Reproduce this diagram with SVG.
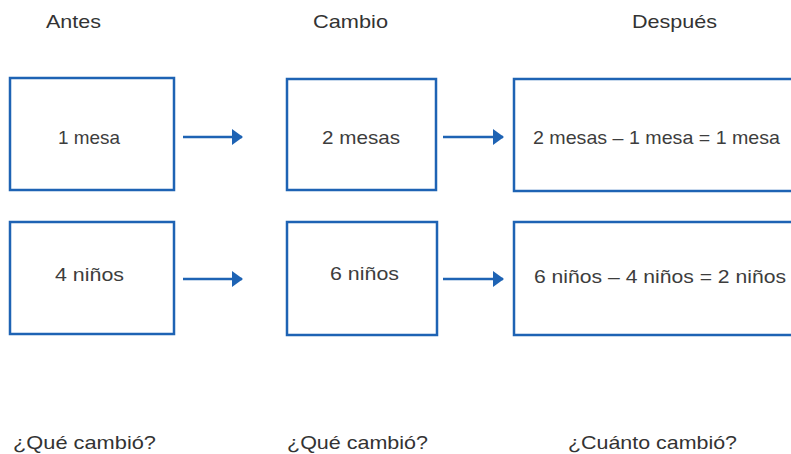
<svg xmlns="http://www.w3.org/2000/svg" width="791" height="454" viewBox="0 0 791 454">
<defs>
<style>
.box{fill:#fff;stroke:#1e63b4;stroke-width:2.5}
.lbl{font-family:"Liberation Sans",Arial,sans-serif;font-size:19px;fill:#3d3d3d}
.hdr{font-family:"Liberation Sans",Arial,sans-serif;font-size:19px;fill:#333}
.con{stroke:#1e63b4;stroke-width:2.5;fill:none}
</style>
<marker id="ah" viewBox="0 0 11 16" refX="10" refY="8" markerWidth="11" markerHeight="16" markerUnits="userSpaceOnUse" orient="auto">
<path d="M0,0 L11,8 L0,16 Z" fill="#1e63b4"/>
</marker>
</defs>
<rect width="791" height="454" fill="#fff"/>
<g id="headers">
<text class="hdr" x="46" y="28" textLength="55" lengthAdjust="spacingAndGlyphs">Antes</text>
<text class="hdr" x="313" y="28" textLength="75" lengthAdjust="spacingAndGlyphs">Cambio</text>
<text class="hdr" x="632" y="28" textLength="85" lengthAdjust="spacingAndGlyphs">Después</text>
</g>
<g id="n1"><rect class="box" x="10" y="78" width="164" height="112"/><text class="lbl" x="58" y="144" textLength="62" lengthAdjust="spacingAndGlyphs">1 mesa</text></g>
<g id="n2"><rect class="box" x="287" y="79" width="149" height="111"/><text class="lbl" x="322" y="144" textLength="78" lengthAdjust="spacingAndGlyphs">2 mesas</text></g>
<g id="n3"><rect class="box" x="514" y="79" width="290" height="112"/><text class="lbl" x="533" y="144" textLength="247" lengthAdjust="spacingAndGlyphs">2 mesas – 1 mesa = 1 mesa</text></g>
<g id="n4"><rect class="box" x="10" y="222" width="164" height="112"/><text class="lbl" x="55" y="281" textLength="69" lengthAdjust="spacingAndGlyphs">4 niños</text></g>
<g id="n5"><rect class="box" x="287" y="222" width="150" height="113"/><text class="lbl" x="330" y="280" textLength="69" lengthAdjust="spacingAndGlyphs">6 niños</text></g>
<g id="n6"><rect class="box" x="514" y="222" width="290" height="113"/><text class="lbl" x="534" y="283" textLength="252" lengthAdjust="spacingAndGlyphs">6 niños – 4 niños = 2 niños</text></g>
<g id="connectors">
<line class="con" x1="183" y1="137" x2="242" y2="137" marker-end="url(#ah)"/>
<line class="con" x1="443" y1="137" x2="503" y2="137" marker-end="url(#ah)"/>
<line class="con" x1="183" y1="279" x2="242" y2="279" marker-end="url(#ah)"/>
<line class="con" x1="443" y1="279" x2="503" y2="279" marker-end="url(#ah)"/>
</g>
<g id="questions">
<text class="hdr" x="13" y="449" textLength="143" lengthAdjust="spacingAndGlyphs">¿Qué cambió?</text>
<text class="hdr" x="287" y="449" textLength="141" lengthAdjust="spacingAndGlyphs">¿Qué cambió?</text>
<text class="hdr" x="568" y="449" textLength="169" lengthAdjust="spacingAndGlyphs">¿Cuánto cambió?</text>
</g>
</svg>
